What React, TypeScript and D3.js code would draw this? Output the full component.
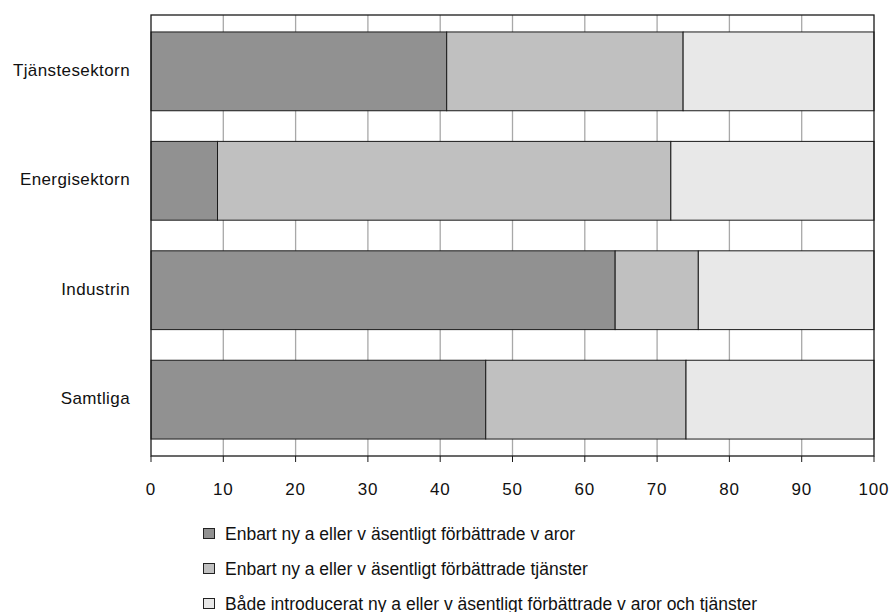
import React from "react";
import * as d3 from "d3";

const categories = ["Tjänstesektorn", "Energisektorn", "Industrin", "Samtliga"];
const seriesNames = [
  "Enbart ny a eller v äsentligt förbättrade v aror",
  "Enbart ny a eller v äsentligt förbättrade tjänster",
  "Både introducerat ny a eller v äsentligt förbättrade v aror och tjänster",
];
const varor = [40.9, 9.2, 64.2, 46.3];
const tjanster = [32.7, 62.7, 11.5, 27.7];
const bada = [26.4, 28.1, 24.3, 26.0];
const xTicks = [0, 10, 20, 30, 40, 50, 60, 70, 80, 90, 100];
const colors = ["#919191", "#c0c0c0", "#e8e8e8"];

const W = 890;
const H = 612;
const M = { left: 151, right: 874, top: 15, bottom: 456 };
const FONT = "'Liberation Sans', Arial, sans-serif";

export default function App() {
  const x = d3.scaleLinear().domain([0, 100]).range([M.left, M.right]);
  const y = d3
    .scaleBand<string>()
    .domain(categories)
    .range([M.top, M.bottom])
    .paddingInner(0.28)
    .paddingOuter(0.155);

  const rows = categories.map((c, i) => ({ c, v: [varor[i], tjanster[i], bada[i]] }));
  const stack = d3
    .stack<{ c: string; v: number[] }, number>()
    .keys([0, 1, 2])
    .value((d, k) => d.v[k]);
  const layers = stack(rows);

  return (
    <svg width={W} height={H} style={{ position: "absolute", left: 0, top: 0, fontFamily: FONT }}>
      <rect x={0} y={0} width={W} height={H} fill="#fff" />
      {xTicks.slice(1, -1).map((t) => (
        <line key={t} x1={x(t)} x2={x(t)} y1={M.top} y2={M.bottom} stroke="#a8a8a8" strokeWidth={1.3} />
      ))}
      {layers.map((layer, li) =>
        layer.map((d, i) => (
          <rect
            key={li + "-" + i}
            x={x(d[0])}
            y={y(categories[i])!}
            width={x(d[1]) - x(d[0])}
            height={y.bandwidth()}
            fill={colors[li]}
            stroke="#1a1a1a"
            strokeWidth={1}
          />
        ))
      )}
      <rect x={M.left} y={M.top} width={M.right - M.left} height={M.bottom - M.top} fill="none" stroke="#1a1a1a" strokeWidth={1.3} />
      {xTicks.map((t) => (
        <g key={t}>
          <line x1={x(t)} x2={x(t)} y1={M.bottom} y2={M.bottom + 6} stroke="#1a1a1a" strokeWidth={1} />
          <text x={x(t)} y={M.bottom + 39} textAnchor="middle" fontSize={17} letterSpacing={0.8} fill="#111">
            {t}
          </text>
        </g>
      ))}
      {categories.map((c) => (
        <text
          key={c}
          x={130}
          y={y(c)! + y.bandwidth() / 2 + 4.5}
          textAnchor="end"
          fontSize={17}
          letterSpacing={0.4}
          fill="#111"
        >
          {c}
        </text>
      ))}
      {seriesNames.map((s, i) => (
        <g key={s}>
          <rect x={203.5} y={528.5 + i * 35} width={11} height={10} fill={colors[i]} stroke="#222" strokeWidth={1} />
          <text x={225} y={539.5 + i * 35} fontSize={17.5} fill="#111">
            {s}
          </text>
        </g>
      ))}
    </svg>
  );
}
